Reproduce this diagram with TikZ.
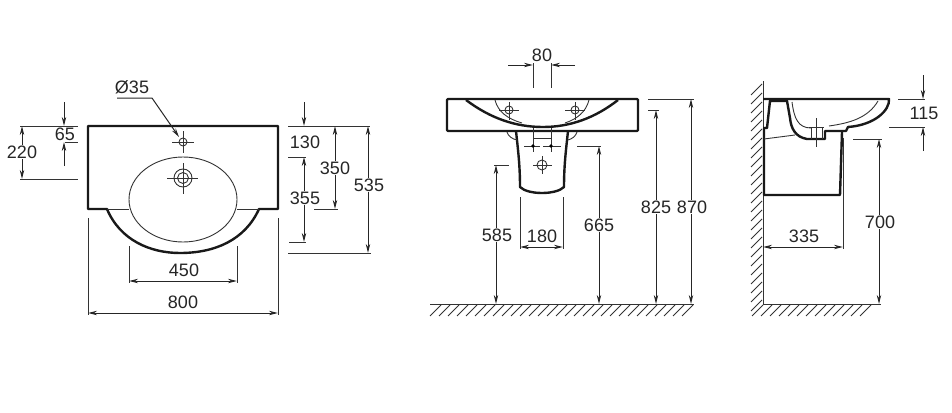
\documentclass[tikz,border=0pt]{standalone}
\usepackage{fontspec}
\setmainfont{Liberation Sans}
\usetikzlibrary{arrows.meta}

\tikzset{
    outline/.style={line width=2.4pt, line join=round, color=black!90},
    thinline/.style={line width=0.9pt, color=black!80},
    extline/.style={line width=1pt, color=black!80},
    dimline/.style={line width=1pt, color=black!85, >={Stealth[length=9pt,width=4.4pt]}},
    hatchline/.style={line width=0.8pt, color=black!80},
    dimlabel/.style={font=\fontsize{18}{18}\selectfont, fill=white, inner sep=1pt, text=black!85}
}

\begin{document}
\begin{tikzpicture}[x=1pt, y=-1pt]
    \useasboundingbox (0,0) rectangle (952,412);

    % top view
    \draw[outline] (88,209) -- (88,126) -- (278,126) -- (278,209) -- (259,209)
        .. controls (245,240) and (215,253) .. (180,253)
        .. controls (150,253) and (120,240) .. (107,209) -- cycle;
    \draw[thinline] (183,199.5) ellipse (54 and 42.5);
    \draw[thinline] (107,209) -- (129,209) (237,209) -- (259,209);
    \draw[thinline] (183,142) circle (4);
    \draw[thinline] (172,142) -- (194,142) (183,131) -- (183,153);
    \draw[thinline] (183,178) circle (9) (183,178) circle (5.5);
    \draw[thinline] (167,178) -- (198,178) (183,163) -- (183,194);

    \node[dimlabel] (dia) at (132,87) {Ø35};
    \draw[dimline, ->] (117,98) -- (152,98) -- (179,137);

    \draw[extline] (20,126) -- (78,126) (65,142) -- (78,142) (20,179) -- (78,179);
    \draw[dimline, ->] (64,102) -- (64,126);
    \draw[dimline, ->] (64,166) -- (64,142);
    \node[dimlabel] (h65) at (65,134) {65};
    \draw[dimline, <->] (22,126) -- (22,179);
    \node[dimlabel] (h220) at (22,152) {220};

    \draw[extline] (288,126) -- (370,126) (288,157) -- (306,157) (289,242) -- (306,242)
        (314,209) -- (338,209) (288,253) -- (371,253);
    \draw[dimline, ->] (304,102) -- (304,126);
    \node[dimlabel] (h130) at (305,142) {130};
    \draw[dimline, <->] (304,157) -- (304,242);
    \node[dimlabel] (h355) at (305,198) {355};
    \draw[dimline, <->] (335,126) -- (335,209);
    \node[dimlabel] (h350) at (335,168) {350};
    \draw[dimline, <->] (368,126) -- (368,253);
    \node[dimlabel] (h535) at (369,185) {535};

    \draw[extline] (129,246) -- (129,283) (237,246) -- (237,283)
        (88,218) -- (88,315) (278,218) -- (278,315);
    \draw[dimline, <->] (129,281) -- (237,281);
    \node[dimlabel] (w450) at (184,270) {450};
    \draw[dimline, <->] (88,313) -- (278,313);
    \node[dimlabel] (w800) at (183,302) {800};

    % front view
    \draw[outline, rounded corners=1pt] (447,99) rectangle (638,131);
    \draw[outline] (466,100) .. controls (490,118) and (515,127) .. (543,127)
        .. controls (570,127) and (595,118) .. (618,100);
    \draw[thinline] (495,100) .. controls (498,112) and (508,119) .. (522,123);
    \draw[thinline] (589,100) .. controls (586,112) and (577,119) .. (565,123);
    \foreach \tapx in {509,575} {
        \draw[thinline] (\tapx,110) circle (4);
        \draw[thinline] (\tapx-10,110) -- (\tapx+10,110) (\tapx,102) -- (\tapx,120);
    }
    \draw[outline] (516,131) .. controls (518,150) and (520,165) .. (520,187)
        .. controls (528,195) and (556,195) .. (564,187)
        .. controls (564,165) and (566,150) .. (568,131);
    \draw[thinline] (507,132) .. controls (508,136) and (512,139) .. (517,140);
    \draw[thinline] (577,132) .. controls (576,136) and (572,139) .. (568,140);
    \draw[thinline] (533,128) -- (533,152) (551,128) -- (551,152) (533,138) -- (551,138);
    \draw[thinline] (524,146) -- (540,146) (543,146) -- (561,146);
    \fill (533,146) circle (1.8) (551,146) circle (1.8);
    \draw[thinline] (542,165) circle (5);
    \draw[thinline] (533,165) -- (552,165) (542,156) -- (542,174);

    \node[dimlabel] (w80) at (542,55) {80};
    \draw[extline] (533,63) -- (533,88) (551,63) -- (551,88);
    \draw[dimline, ->] (508,65) -- (533,65);
    \draw[dimline, ->] (575,65) -- (551,65);

    \draw[thinline] (430,304) -- (694,304);
    \foreach \hatchx in {430,439,...,685}
        \draw[hatchline] (\hatchx,316) -- (\hatchx+11,305);

    \draw[extline] (494,165) -- (509,165) (577,146) -- (601,146)
        (648,110) -- (659,110) (648,99) -- (694,99)
        (520,197) -- (520,249) (563,197) -- (563,249);
    \draw[dimline, <->] (496,165) -- (496,304);
    \node[dimlabel] (h585) at (497,235) {585};
    \draw[dimline, <->] (599,146) -- (599,304);
    \node[dimlabel] (h665) at (599,225) {665};
    \draw[dimline, <->] (656,110) -- (656,304);
    \node[dimlabel] (h825) at (656,207) {825};
    \draw[dimline, <->] (691,99) -- (691,304);
    \node[dimlabel] (h870) at (692,207) {870};
    \draw[dimline, <->] (520,247) -- (563,247);
    \node[dimlabel] (w180) at (542,236) {180};

    % side view
    \draw[thinline] (763,81) -- (763,304) -- (881,304);
    \foreach \hatchy in {84,93,...,300}
        \draw[hatchline] (751,\hatchy+11) -- (762,\hatchy);
    \foreach \hatchx in {752,761,...,866}
        \draw[hatchline] (\hatchx,316) -- (\hatchx+11,305);

    \draw[outline] (763,99) -- (889,99) .. controls (890,110) and (875,125) .. (848,127)
        -- (846,131) -- (825,131) -- (825,139) -- (807,139)
        .. controls (795,137) and (791,128) .. (790,118) -- (787,101) -- (770,101)
        -- (767,128) -- (763,128);
    \draw[outline] (764,128) -- (764,195) -- (840,195) -- (842,132);
    \draw[thinline] (792,102) .. controls (794,118) and (798,128) .. (811,128);
    \draw[thinline] (829,126) .. controls (850,123) and (868,118) .. (878,101);
    \draw[thinline] (764,139) -- (795,135);
    \draw[thinline] (809,127) -- (824,127) (811,127) -- (811,139) (822,127) -- (822,139)
        (816,118) -- (816,147);

    \draw[extline] (843,138) -- (843,249) (853,139) -- (882,139)
        (898,99) -- (925,99) (889,127) -- (925,127);
    \draw[dimline, <->] (763,247) -- (843,247);
    \node[dimlabel] (d335) at (804,236) {335};
    \draw[dimline, <->] (879,139) -- (879,304);
    \node[dimlabel] (h700) at (880,222) {700};
    \draw[dimline, ->] (923,75) -- (923,99);
    \draw[dimline, ->] (923,151) -- (923,127);
    \node[dimlabel] (h115) at (924,113) {115};
\end{tikzpicture}
\end{document}
